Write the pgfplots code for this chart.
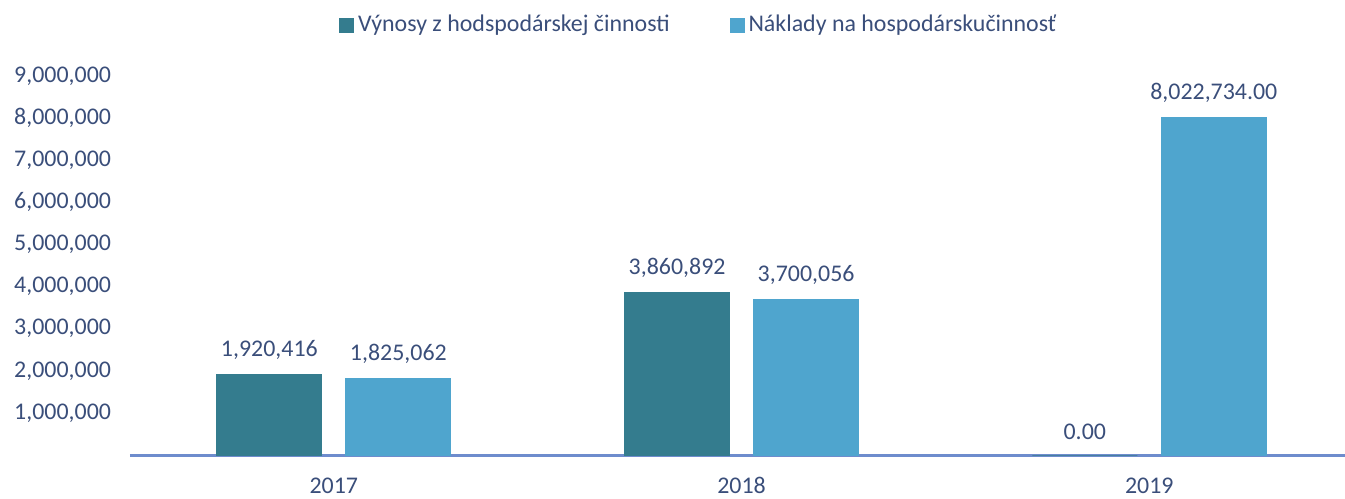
\documentclass[border=0pt]{standalone}
\usepackage{pgfplots}
\pgfplotsset{compat=1.18}
\usepackage{fontspec}
\setmainfont{Carlito}
\definecolor{darkbar}{RGB}{52,124,142}
\definecolor{lightbar}{RGB}{79,165,206}
\definecolor{txt}{RGB}{58,78,122}
\definecolor{axline}{RGB}{110,140,205}
\begin{document}
\begin{tikzpicture}[font=\fontsize{12}{14}\selectfont]
\useasboundingbox (-65bp,-22bp) rectangle (607.5bp,227.5bp);
\begin{axis}[
  at={(0,0)}, anchor=south west,
  scale only axis,
  width=607.5bp, height=195.75bp,
  xmin=-0.5, xmax=2.48,
  ymin=0, ymax=9300000,
  axis x line*=bottom,
  axis y line*=left,
  y axis line style={draw=none},
  x axis line style={axline, line width=1.5bp, -},
  ybar, bar width=52.5bp,
  xtick={0,1,2}, xticklabels={2017,2018,2019},
  xtick style={draw=none},
  xticklabel style={text=txt, yshift=-3.5bp},
  ytick={1000000,2000000,3000000,4000000,5000000,6000000,7000000,8000000,9000000},
  yticklabels={{1,000,000},{2,000,000},{3,000,000},{4,000,000},{5,000,000},{6,000,000},{7,000,000},{8,000,000},{9,000,000}},
  scaled y ticks=false,
  ytick style={draw=none},
  yticklabel style={text=txt, xshift=-6bp},
  /pgf/number format/assume math mode=true,
  point meta=explicit symbolic,
  nodes near coords,
  every node near coord/.append style={text=txt, yshift=4bp},
  legend style={at={(rel axis cs:0.469,1.098)}, anchor=center, draw=none, fill=none,
    legend columns=2, text=txt,
    /tikz/every even column/.append style={column sep=28bp}},
  legend image code/.code={\fill[#1] (0bp,-3.5bp) rectangle (7bp,3.5bp);},
  clip=false,
]
\addplot[fill=darkbar, draw=darkbar, bar shift=-32.25bp] coordinates {
  (0,1920416) [{1,920,416}]
  (1,3860892) [{3,860,892}]
  (2,0) [{0.00}]
};
\addlegendentry{Výnosy z hodspodárskej činnosti}
\addplot[fill=lightbar, draw=lightbar, bar shift=32.25bp] coordinates {
  (0,1825062) [{1,825,062}]
  (1,3700056) [{3,700,056}]
  (2,8022734) [{8,022,734.00}]
};
\addlegendentry{Náklady na hospodárskučinnosť}
\end{axis}
\end{tikzpicture}
\end{document}
